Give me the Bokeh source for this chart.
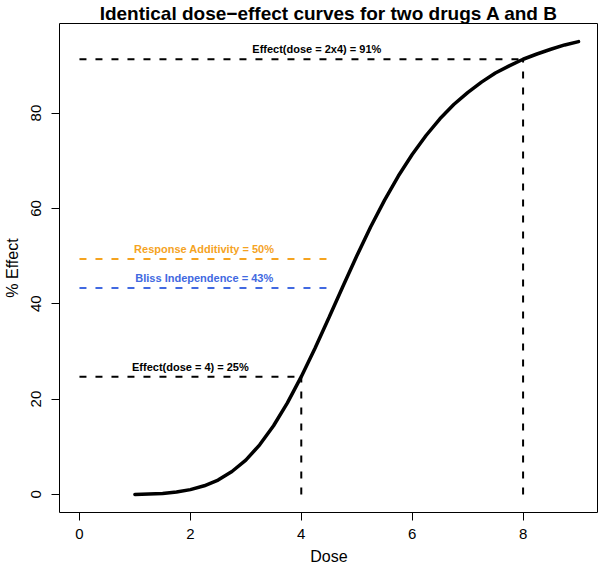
from bokeh.plotting import figure
from bokeh.embed import file_html
from bokeh.resources import INLINE
from bokeh.models import Range1d, FixedTicker
from bokeh.core.properties import value

# Dose-effect curve
dose = [1.0, 1.25, 1.5, 1.75, 2.0, 2.25, 2.5, 2.75, 3.0, 3.25, 3.5, 3.75, 4.0,
        4.25, 4.5, 4.75, 5.0, 5.25, 5.5, 5.75, 6.0, 6.25, 6.5, 6.75, 7.0,
        7.25, 7.5, 7.75, 8.0, 8.25, 8.5, 8.75, 9.0]
effect = [0.0, 0.1, 0.2, 0.5, 1.0, 1.8, 3.0, 4.8, 7.2, 10.4, 14.4, 19.2, 24.7,
          30.7, 37.1, 43.6, 50.0, 56.1, 61.7, 66.8, 71.3, 75.3, 78.8, 81.8, 84.3,
          86.5, 88.4, 89.9, 91.3, 92.4, 93.4, 94.3, 95.0]

# Reference values
dose_single = 4
effect_single = 24.7
dose_double = 8
effect_double = 91.3
additivity = 49.4
bliss = 43.3
ref_line_end = 4.5

labels_text = ["Effect(dose = 2x4) = 91%", "Effect(dose = 4) = 25%",
               "Response Additivity = 50%", "Bliss Independence = 43%"]
labels_x = [4.28, 2.0, 2.25, 2.25]
labels_y = [93.5, 26.7, 51.4, 45.3]
labels_color = ["black", "black", "#F5A31F", "#4169E1"]

x_ticks = [0, 2, 4, 6, 8]
y_ticks = [0, 20, 40, 60, 80]

FONT = "Liberation Sans"

p = figure(width=598, height=567, output_backend="svg", toolbar_location=None,
           x_range=Range1d(-0.36, 9.36), y_range=Range1d(-3.8, 98.8),
           title="Identical dose\u2212effect curves for two drugs A and B",
           min_border_left=10, min_border_right=0, min_border_top=0,
           min_border_bottom=0)

p.title.text_font = FONT
p.title.text_font_size = "19px"
p.title.text_font_style = "bold"
p.title.text_color = "black"
p.title.align = "center"
p.title.standoff = 0
p.title.offset = 0

p.xgrid.visible = False
p.ygrid.visible = False
p.outline_line_color = "black"
p.outline_line_width = 1
p.outline_line_alpha = 1

for ax in (p.xaxis[0], p.yaxis[0]):
    ax.axis_line_color = None
    ax.major_tick_line_color = "black"
    ax.major_tick_in = 0
    ax.major_tick_out = 8
    ax.minor_tick_line_color = None
    ax.major_label_text_font = FONT
    ax.major_label_text_font_size = "15px"
    ax.major_label_text_color = "black"
    ax.axis_label_text_font = FONT
    ax.axis_label_text_font_size = "16px"
    ax.axis_label_text_font_style = "normal"
    ax.axis_label_text_color = "black"

p.xaxis.ticker = FixedTicker(ticks=x_ticks)
p.yaxis.ticker = FixedTicker(ticks=y_ticks)
p.xaxis.axis_label = "Dose"
p.yaxis.axis_label = "% Effect"
p.yaxis.major_label_orientation = "vertical"
p.xaxis.major_label_standoff = 8
p.yaxis.major_label_standoff = 10
p.xaxis.axis_label_standoff = 6
p.yaxis.axis_label_standoff = 8

dash = "7 9"
# reference dashed lines
p.line([0, dose_double], [effect_double, effect_double], line_color="black",
       line_width=2, line_dash=dash)
p.line([dose_double, dose_double], [0, effect_double], line_color="black",
       line_width=2, line_dash=dash)
p.line([0, dose_single], [effect_single, effect_single], line_color="black",
       line_width=2, line_dash=dash)
p.line([dose_single, dose_single], [0, effect_single], line_color="black",
       line_width=2, line_dash=dash)
p.line([0, ref_line_end], [additivity, additivity], line_color=labels_color[2],
       line_width=2, line_dash=dash)
p.line([0, ref_line_end], [bliss, bliss], line_color=labels_color[3],
       line_width=2, line_dash=dash)

# curve
p.line(dose, effect, line_color="black", line_width=3.5, line_cap="round")

p.text(x=labels_x, y=labels_y, text=labels_text, text_color=labels_color,
       text_font=value(FONT), text_font_size="11px", text_font_style="bold",
       text_align="center", text_baseline="middle")

open("out.html", "w").write(file_html(p, INLINE))
